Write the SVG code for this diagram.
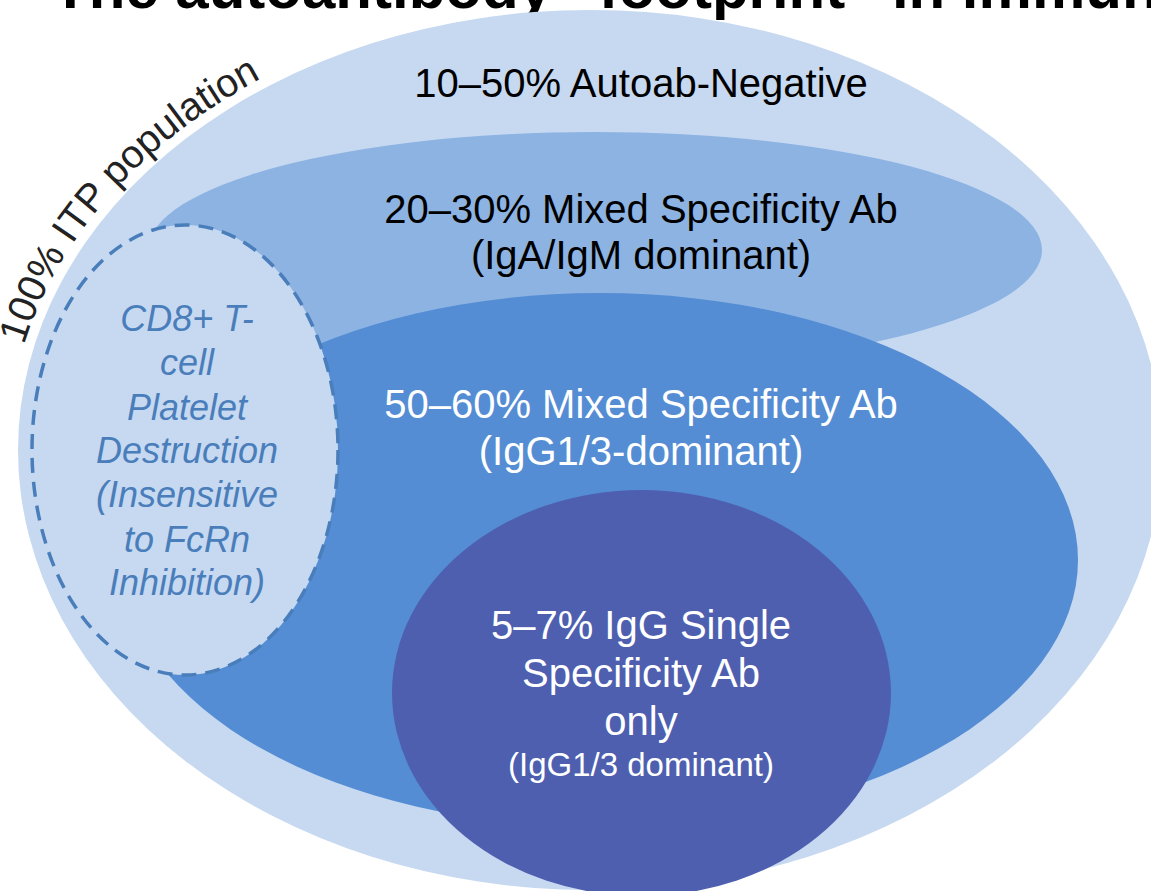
<svg xmlns="http://www.w3.org/2000/svg" width="1151" height="891" viewBox="0 0 1151 891">
<defs>
<style>
.t{font-family:"Liberation Sans",Arial,sans-serif;font-size:40px;text-anchor:middle}
.blk{fill:#000}
.wht{fill:#fff}
.it{font-family:"Liberation Sans",Arial,sans-serif;font-size:36px;font-style:italic;fill:#4A7EBB;text-anchor:middle}
</style>
<path id="arcPath" d="M 24 345 A 582 450 0 0 1 489 6.8"/>
</defs>
<rect width="1151" height="891" fill="#fff"/>
<text x="52" y="8" font-family="Liberation Sans,Arial,sans-serif" font-size="60" font-weight="bold" fill="#000">The autoantibody “footprint” in immune</text>
<g id="outer">
<ellipse cx="590" cy="450" rx="572" ry="440" fill="#C6D9F1"/>
<text class="t blk" x="641" y="97">10–50% Autoab-Negative</text>
</g>
<g id="label-population">
<text font-family="Liberation Sans,Arial,sans-serif" font-size="39.5" fill="#222"><textPath href="#arcPath">100% ITP population</textPath></text>
</g>
<g id="mixed-iga">
<ellipse cx="595" cy="250" rx="447" ry="118" fill="#8DB3E2"/>
<text class="t blk" x="641" y="223">20–30% Mixed Specificity Ab</text>
<text class="t blk" x="641" y="269">(IgA/IgM dominant)</text>
</g>
<g id="mixed-igg">
<ellipse cx="600" cy="560" rx="478" ry="267" fill="#548DD4"/>
<text class="t wht" x="641" y="418">50–60% Mixed Specificity Ab</text>
<text class="t wht" x="641" y="465">(IgG1/3-dominant)</text>
</g>
<g id="cd8">
<ellipse cx="185" cy="450" rx="153" ry="225" fill="#C6D9F1" stroke="#4A7EBB" stroke-width="3.5" stroke-dasharray="15 9"/>
<text class="it" x="187" y="331">CD8+ T-</text>
<text class="it" x="187" y="375">cell</text>
<text class="it" x="187" y="420">Platelet</text>
<text class="it" x="187" y="463">Destruction</text>
<text class="it" x="187" y="507">(Insensitive</text>
<text class="it" x="187" y="552">to FcRn</text>
<text class="it" x="187" y="595">Inhibition)</text>
</g>
<g id="single-igg">
<ellipse cx="641.5" cy="693" rx="249.5" ry="203" fill="#4E5FB0"/>
<text class="t wht" x="641" y="639">5–7% IgG Single</text>
<text class="t wht" x="641" y="687">Specificity Ab</text>
<text class="t wht" x="641" y="735">only</text>
<text class="t wht" x="641" y="776" style="font-size:33px">(IgG1/3 dominant)</text>
</g>
<g id="connectors"/>
</svg>
